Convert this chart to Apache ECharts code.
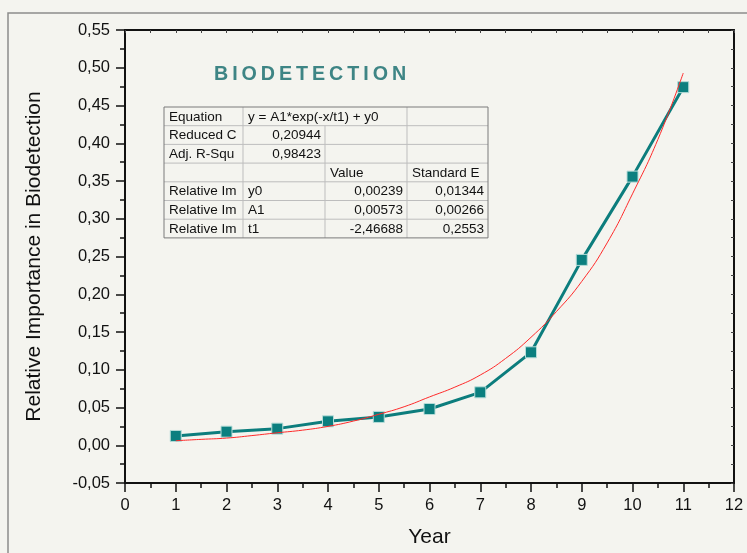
<!DOCTYPE html>
<html>
<head>
<meta charset="utf-8">
<script src="https://cdn.jsdelivr.net/npm/echarts@6/dist/echarts.min.js"></script>
<style>
  html, body { margin: 0; padding: 0; background: #f4f4ef; }
  #chart { width: 747px; height: 553px; }
</style>
</head>
<body>
<div id="chart"></div>
<script>
var years = [1, 2, 3, 4, 5, 6, 7, 8, 9, 10, 11];
var importance = [0.0123, 0.018, 0.022, 0.0317, 0.0375, 0.048, 0.0701, 0.1231, 0.2455, 0.3558, 0.4743];

// red fitted curve, every half year
var fitYears = [1, 1.5, 2, 2.5, 3, 3.5, 4, 4.5, 5, 5.5, 6, 6.5, 7, 7.5, 8, 8.5, 9, 9.5, 10, 10.5, 11];
var fitValues = [0.006, 0.0078, 0.0095, 0.0128, 0.0165, 0.020, 0.025, 0.032, 0.041, 0.051, 0.064, 0.077, 0.093, 0.115, 0.143, 0.177, 0.217, 0.268, 0.333, 0.405, 0.493];

// fit result table
var tableRows = [
  ["Equation", "y = A1*exp(-x/t1) + y0", "", ""],
  ["Reduced C", "0,20944", "", ""],
  ["Adj. R-Squ", "0,98423", "", ""],
  ["", "", "Value", "Standard E"],
  ["Relative Im", "y0", "0,00239", "0,01344"],
  ["Relative Im", "A1", "0,00573", "0,00266"],
  ["Relative Im", "t1", "-2,46688", "0,2553"]
];

var chartTitle = "BIODETECTION";

var chart = echarts.init(document.getElementById("chart"));

// table layout
var tTop = 107, rowH = 18.7;
var colX = [164, 243, 325, 407, 488];
var isNum = function (s) { return /^-?[\d,]+$/.test(s); };

var tableEls = [];
tableRows.forEach(function (row, r) {
  var y0 = tTop + r * rowH;
  row.forEach(function (txt, c) {
    if (!txt) return;
    var right = c > 0 && isNum(txt);
    tableEls.push({
      type: "text",
      x: right ? colX[c + 1] - 4 : colX[c] + 5,
      y: y0 + rowH / 2 + 0.5,
      style: {
        text: txt,
        fill: "#111",
        font: "13.5px 'Liberation Sans', Arial, sans-serif",
        textAlign: right ? "right" : "left",
        textVerticalAlign: "middle"
      }
    });
  });
  // inner vertical lines for this row
  for (var c = 1; c < 4; c++) {
    if (r === 0 && c === 2) continue; // equation spans two cells
    tableEls.push({
      type: "line",
      shape: { x1: colX[c], y1: y0, x2: colX[c], y2: y0 + rowH },
      style: { stroke: "#bdbdbd", lineWidth: 1 }
    });
  }
  if (r > 0) {
    tableEls.push({
      type: "line",
      shape: { x1: colX[0], y1: y0, x2: colX[4], y2: y0 },
      style: { stroke: "#bdbdbd", lineWidth: 1 }
    });
  }
});
tableEls.push({
  type: "rect",
  shape: { x: colX[0], y: tTop, width: colX[4] - colX[0], height: rowH * tableRows.length },
  style: { fill: null, stroke: "#7a7a7a", lineWidth: 1 }
});

var fmt = function (v) { return v.toFixed(2).replace(".", ","); };
var axisFont = "'Liberation Sans', Arial, sans-serif";

var option = {
  backgroundColor: "#f4f4ef",
  animation: false,
  grid: { left: 125, top: 30, right: 13, bottom: 70, outerBoundsMode: "none", containLabel: false },
  xAxis: [
    {
      type: "value",
      min: 0,
      max: 12,
      interval: 1,
      name: "Year",
      nameLocation: "middle",
      nameGap: 44,
      nameTextStyle: { fontSize: 21, color: "#111", fontFamily: axisFont },
      axisLine: { onZero: false, lineStyle: { color: "#111", width: 2 } },
      axisTick: { show: true, length: 9, lineStyle: { color: "#111", width: 1.5 } },
      minorTick: { show: true, splitNumber: 2, length: 5, lineStyle: { color: "#111", width: 1.5 } },
      axisLabel: { fontSize: 16.5, color: "#111", margin: 14, fontFamily: axisFont },
      splitLine: { show: false }
    },
    {
      type: "value",
      position: "top",
      min: 0,
      max: 12,
      interval: 0.5,
      axisLine: { show: true, onZero: false, lineStyle: { color: "#111", width: 2 } },
      axisTick: { show: true, inside: true, length: 3, lineStyle: { color: "#444", width: 1 } },
      axisLabel: { show: false },
      splitLine: { show: false }
    }
  ],
  yAxis: [
    {
      type: "value",
      min: -0.05,
      max: 0.55,
      interval: 0.05,
      name: "Relative Importance in Biodetection",
      nameLocation: "middle",
      nameGap: 80,
      nameRotate: 90,
      nameTextStyle: { fontSize: 21, color: "#111", fontFamily: axisFont },
      axisLine: { show: true, onZero: false, lineStyle: { color: "#111", width: 2 } },
      axisTick: { show: true, length: 9, lineStyle: { color: "#111", width: 1.5 } },
      minorTick: { show: true, splitNumber: 2, length: 5, lineStyle: { color: "#111", width: 1.5 } },
      axisLabel: { fontSize: 16.5, color: "#111", margin: 15, formatter: fmt, fontFamily: axisFont },
      splitLine: { show: false }
    },
    {
      type: "value",
      position: "right",
      min: -0.05,
      max: 0.55,
      interval: 0.025,
      axisLine: { show: true, onZero: false, lineStyle: { color: "#111", width: 2 } },
      axisTick: { show: true, inside: true, length: 3, lineStyle: { color: "#444", width: 1 } },
      axisLabel: { show: false },
      splitLine: { show: false }
    }
  ],
  series: [
    {
      name: "Relative Importance",
      type: "line",
      data: years.map(function (x, i) { return [x, importance[i]]; }),
      symbol: "rect",
      symbolSize: 11,
      lineStyle: { color: "#0c7d7d", width: 3 },
      itemStyle: { color: "#0b7f7f", borderColor: "#b5dcd8", borderWidth: 1 },
      z: 2
    },
    {
      name: "Fit",
      type: "line",
      data: fitYears.map(function (x, i) { return [x, fitValues[i]]; }),
      smooth: 0.5,
      showSymbol: false,
      lineStyle: { color: "#ff2a2a", width: 1 },
      z: 3
    }
  ],
  graphic: [
    {
      type: "rect",
      shape: { x: 8, y: 13, width: 760, height: 560 },
      style: { fill: null, stroke: "#8c8c8c", lineWidth: 1.5 },
      silent: true
    },
    {
      type: "text",
      x: 214,
      y: 75,
      style: {
        text: chartTitle.split("").join("\u2009"),
        fill: "#3e8585",
        font: "bold 19.7px 'Liberation Sans', Arial, sans-serif",
        textVerticalAlign: "middle"
      }
    },
    { type: "group", children: tableEls }
  ]
};

chart.setOption(option);
</script>
</body>
</html>
